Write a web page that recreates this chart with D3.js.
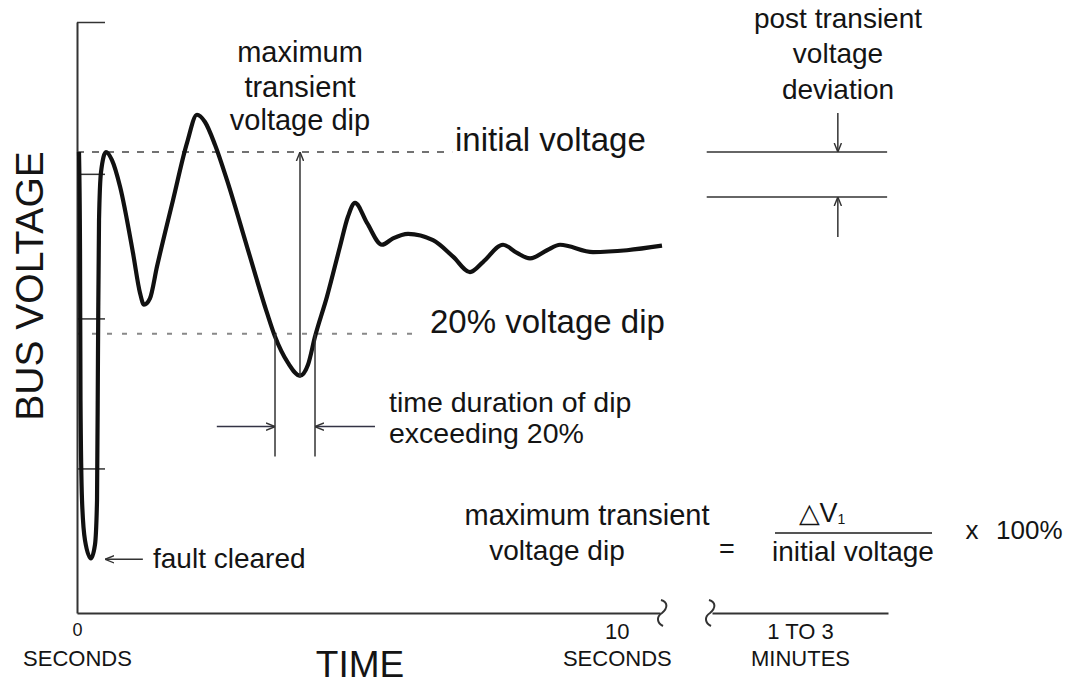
<!DOCTYPE html>
<html>
<head>
<meta charset="utf-8">
<script src="https://cdn.jsdelivr.net/npm/d3@7"></script>
<style>
  body { margin: 0; background: #fff; }
  text { font-family: "Liberation Sans", Arial, sans-serif; fill: #141414; }
</style>
</head>
<body>
<script>
// bus voltage trace: time in seconds, voltage in % of initial
const times = [0.037, 0.056, 0.065, 0.093, 0.148, 0.259, 0.333, 0.371, 0.389, 0.408, 0.445, 0.537,
  0.648, 0.797, 1.037, 1.167, 1.241, 1.352, 1.482, 1.778, 2.038, 2.223, 2.371, 2.556, 2.779, 3.149,
  3.520, 3.668, 3.909, 4.131, 4.279, 4.409, 4.631, 4.872, 5.020, 5.150, 5.372, 5.650, 5.854, 6.132,
  6.595, 6.966, 7.280, 7.521, 7.892, 8.151, 8.392, 8.707, 8.948, 9.559, 10.189, 10.837]
const volts = [100.0, 89.2, 72.7, 61.7, 57.3, 55.3, 56.8, 61.7, 78.2, 92.5, 97.8, 100.0,
  99.1, 96.2, 88.9, 84.5, 83.2, 83.9, 87.4, 94.7, 101.0, 104.1, 103.3, 100.8, 96.9, 89.6,
  82.3, 79.7, 76.8, 75.4, 76.6, 79.7, 84.1, 89.6, 92.9, 94.4, 92.2, 89.8, 90.5, 91.0,
  90.3, 88.5, 86.8, 87.9, 89.8, 88.9, 88.3, 89.2, 89.8, 89.0, 89.2, 89.7]

const secTicks = [0, 10]
const minuteTicks = [2]           // one label in the middle of the 1-3 minute stretch
const yTicks = [114.3, 97.6, 81.7, 65.2]
const initialV = 100
const dipV = 80
const postBand = [100, 95.05]
const dipStart = 3.668, dipEnd = 4.409
const dipMin = {t: 4.131, v: 75.4}

const data = times.map((t, i) => ({t: t, v: volts[i]}))

const w = 1065, h = 687

const x = d3.scaleLinear().domain([0, 10.8]).range([77, 660])
const m = d3.scaleLinear().domain([1, 3]).range([712, 888])
const y = d3.scaleLinear().domain([49.3, 114.3]).range([613, 22])

const svg = d3.select('body').append('svg')
  .attr('width', w)
  .attr('height', h)

const defs = svg.append('defs')
defs.append('marker')
  .attr('id', 'head')
  .attr('viewBox', '0 0 10 10')
  .attr('refX', 10).attr('refY', 5)
  .attr('markerWidth', 9).attr('markerHeight', 9)
  .attr('markerUnits', 'userSpaceOnUse')
  .attr('orient', 'auto')
  .append('path')
  .attr('d', 'M0,1 L10,5 L0,9')
  .attr('fill', 'none')
  .attr('stroke', '#333')
  .attr('stroke-width', 1.6)

// reference lines
svg.append('line')
  .attr('x1', x(0)).attr('x2', x(6.95))
  .attr('y1', y(initialV)).attr('y2', y(initialV))
  .attr('stroke', '#444').attr('stroke-width', 1.6)
  .attr('stroke-dasharray', '7,8')

svg.append('line')
  .attr('x1', x(0)).attr('x2', x(6.3))
  .attr('y1', y(dipV)).attr('y2', y(dipV))
  .attr('stroke', '#888').attr('stroke-width', 2)
  .attr('stroke-dasharray', '5,10')

// axes
const yAxis = d3.axisRight(y).tickValues(yTicks).tickSize(28).tickSizeOuter(0).tickFormat('')
const gy = svg.append('g')
  .attr('transform', 'translate(' + x(0) + ',0)')
  .call(yAxis)
gy.select('.domain').attr('stroke', '#333').attr('stroke-width', 2)
gy.selectAll('.tick line').attr('stroke', '#333').attr('stroke-width', 1.5)

const xAxis = d3.axisBottom(x).tickValues(secTicks).tickSize(0).tickSizeOuter(0).tickPadding(10)
const gx = svg.append('g')
  .attr('transform', 'translate(0,' + y.range()[0] + ')')
  .call(xAxis)
gx.select('.domain').attr('stroke', '#333').attr('stroke-width', 2)
gx.selectAll('.tick text')
  .attr('font-size', d => d === 0 ? 18 : 22)
  .attr('font-family', '"Liberation Sans", Arial, sans-serif')
  .attr('fill', '#141414')
gx.selectAll('.tick').append('text')
  .attr('y', 53)
  .attr('font-size', 22)
  .attr('font-family', '"Liberation Sans", Arial, sans-serif')
  .attr('fill', '#141414')
  .text('SECONDS')

const mAxis = d3.axisBottom(m).tickValues(minuteTicks).tickSize(0).tickSizeOuter(0).tickPadding(10)
  .tickFormat(() => '1 TO 3')
const gm = svg.append('g')
  .attr('transform', 'translate(0,' + y.range()[0] + ')')
  .call(mAxis)
gm.select('.domain').attr('stroke', '#333').attr('stroke-width', 2)
gm.selectAll('.tick text')
  .attr('font-size', 22)
  .attr('font-family', '"Liberation Sans", Arial, sans-serif')
  .attr('fill', '#141414')
gm.selectAll('.tick').append('text')
  .attr('y', 53)
  .attr('font-size', 22)
  .attr('font-family', '"Liberation Sans", Arial, sans-serif')
  .attr('fill', '#141414')
  .text('MINUTES')

// axis break squiggles
const squiggle = (cx, cy) => 'M' + (cx - 2) + ',' + (cy - 13) +
  ' c 7,2 7,8 1,13 c -6,4 -5,10 1,13'
svg.append('path').attr('d', squiggle(x(10.8) + 3, y.range()[0]))
  .attr('fill', 'none').attr('stroke', '#333').attr('stroke-width', 2)
svg.append('path').attr('d', squiggle(m(1) - 1, y.range()[0]))
  .attr('fill', 'none').attr('stroke', '#333').attr('stroke-width', 2)

// axis titles
svg.append('text')
  .attr('transform', 'translate(43,286) rotate(-90)')
  .attr('text-anchor', 'middle')
  .attr('font-size', 39)
  .text('BUS VOLTAGE')

svg.append('text')
  .attr('x', 360).attr('y', 677)
  .attr('text-anchor', 'middle')
  .attr('font-size', 37)
  .text('TIME')

// the voltage trace
const line = d3.line()
  .x(d => x(d.t))
  .y(d => y(d.v))
  .curve(d3.curveMonotoneX)

svg.append('path')
  .datum(data)
  .attr('d', line)
  .attr('fill', 'none')
  .attr('stroke', '#111')
  .attr('stroke-width', 4.2)
  .attr('stroke-linejoin', 'round')

// max dip arrow
svg.append('line')
  .attr('x1', x(dipMin.t)).attr('x2', x(dipMin.t))
  .attr('y1', y(dipMin.v) + 2).attr('y2', y(initialV))
  .attr('stroke', '#333').attr('stroke-width', 1.5)
  .attr('marker-end', 'url(#head)')

// duration of dip
;[dipStart, dipEnd].forEach(t => {
  svg.append('line')
    .attr('x1', x(t)).attr('x2', x(t))
    .attr('y1', y(dipV)).attr('y2', y(66.5))
    .attr('stroke', '#333').attr('stroke-width', 1.5)
})
svg.append('line')
  .attr('x1', x(2.59)).attr('x2', x(dipStart))
  .attr('y1', y(69.8)).attr('y2', y(69.8))
  .attr('stroke', '#334').attr('stroke-width', 1.5)
  .attr('marker-end', 'url(#head)')
svg.append('line')
  .attr('x1', x(5.52)).attr('x2', x(dipEnd))
  .attr('y1', y(69.8)).attr('y2', y(69.8))
  .attr('stroke', '#334').attr('stroke-width', 1.5)
  .attr('marker-end', 'url(#head)')

// fault cleared arrow
svg.append('line')
  .attr('x1', x(1.22)).attr('x2', x(0.52))
  .attr('y1', y(55.2)).attr('y2', y(55.2))
  .attr('stroke', '#333').attr('stroke-width', 1.5)
  .attr('marker-end', 'url(#head)')

// post transient band
postBand.forEach(v => {
  svg.append('line')
    .attr('x1', m(0.94)).attr('x2', m(2.99))
    .attr('y1', y(v)).attr('y2', y(v))
    .attr('stroke', '#333').attr('stroke-width', 1.5)
})
svg.append('line')
  .attr('x1', m(2.43)).attr('x2', m(2.43))
  .attr('y1', y(104.3)).attr('y2', y(postBand[0]))
  .attr('stroke', '#333').attr('stroke-width', 1.5)
  .attr('marker-end', 'url(#head)')
svg.append('line')
  .attr('x1', m(2.43)).attr('x2', m(2.43))
  .attr('y1', y(90.65)).attr('y2', y(postBand[1]))
  .attr('stroke', '#333').attr('stroke-width', 1.5)
  .attr('marker-end', 'url(#head)')

// annotation text
const label = (txt, lx, ly, size, anchor) => svg.append('text')
  .attr('x', lx).attr('y', ly)
  .attr('font-size', size)
  .attr('text-anchor', anchor || 'start')
  .text(txt)

label('maximum', 300, 62, 29, 'middle')
label('transient', 300, 97, 29, 'middle')
label('voltage dip', 300, 130, 29, 'middle')

label('initial voltage', 455, 151, 33)
label('20% voltage dip', 430, 333, 33)

label('time duration of dip', 389, 412, 28.5)
label('exceeding 20%', 389, 443, 28.5)

label('fault cleared', 153, 568, 28)

label('post transient', 838, 28, 28, 'middle')
label('voltage', 838, 63, 28, 'middle')
label('deviation', 838, 99, 28, 'middle')

// formula
label('maximum transient', 587, 525, 29, 'middle')
label('voltage dip', 557, 560, 28, 'middle')
label('=', 727, 558, 27, 'middle')
const dv = label('\u25B3V', 822, 522, 27, 'middle')
dv.append('tspan').attr('font-size', 14).attr('dy', 2).text('1')
svg.append('line')
  .attr('x1', 775).attr('x2', 932)
  .attr('y1', 533).attr('y2', 533)
  .attr('stroke', '#555').attr('stroke-width', 2)
label('initial voltage', 853, 561, 28, 'middle')
label('x', 972, 539, 26, 'middle')
label('100%', 996, 539, 26)
</script>
</body>
</html>
